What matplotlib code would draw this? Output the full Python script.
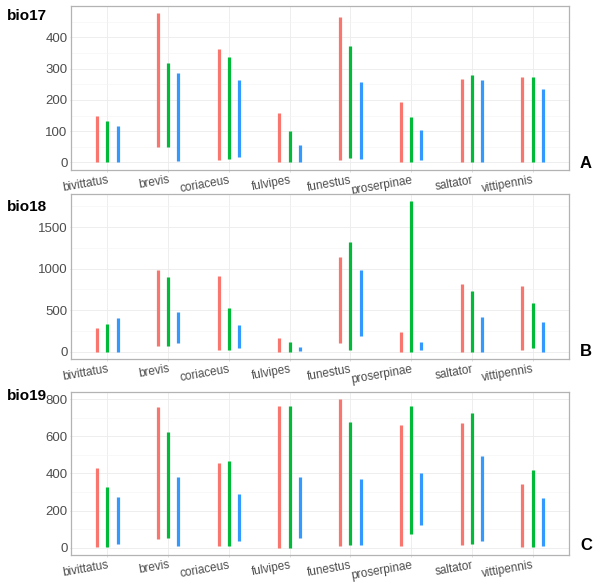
import matplotlib
matplotlib.use("Agg")
import matplotlib.pyplot as plt
import numpy as np
from matplotlib.ticker import MultipleLocator

plt.rcParams['font.family'] = ['Liberation Sans', 'DejaVu Sans']

species = ["bivittatus", "brevis", "coriaceus", "fulvipes", "funestus",
           "proserpinae", "saltator", "vittipennis"]
series_colors = ["#F8766D", "#00BA38", "#3399FF"]

# bio17: (low, high) per series (red, green, blue)
bio17_red_low = [0, 48, 8, 0, 8, 0, 0, 0]
bio17_red_high = [150, 477, 363, 158, 464, 192, 267, 272]
bio17_green_low = [0, 48, 11, 0, 14, 0, 0, 0]
bio17_green_high = [133, 318, 337, 100, 371, 146, 281, 274]
bio17_blue_low = [0, 6, 18, 0, 11, 8, 0, 2]
bio17_blue_high = [116, 287, 264, 57, 256, 104, 262, 235]

bio18_red_low = [0, 64, 16, 0, 100, 0, 0, 16]
bio18_red_high = [289, 990, 914, 160, 1135, 233, 810, 794]
bio18_green_low = [0, 72, 24, 0, 16, 0, 0, 48]
bio18_green_high = [333, 906, 529, 112, 1319, 1821, 730, 585]
bio18_blue_low = [0, 104, 40, 4, 184, 16, 0, 0]
bio18_blue_high = [409, 477, 325, 60, 986, 120, 413, 357]

bio19_red_low = [5, 47, 9, 0, 11, 11, 16, 2]
bio19_red_high = [427, 757, 456, 762, 804, 664, 673, 343]
bio19_green_low = [4, 50, 11, 0, 16, 72, 22, 2]
bio19_green_high = [328, 622, 468, 762, 678, 762, 725, 418]
bio19_blue_low = [20, 9, 38, 54, 14, 120, 36, 11]
bio19_blue_high = [273, 380, 292, 380, 370, 404, 492, 267]

panels = [
    ("bio17", "A", [(bio17_red_low, bio17_red_high), (bio17_green_low, bio17_green_high),
                    (bio17_blue_low, bio17_blue_high)], (-24, 500), [0, 100, 200, 300, 400], 50),
    ("bio18", "B", [(bio18_red_low, bio18_red_high), (bio18_green_low, bio18_green_high),
                    (bio18_blue_low, bio18_blue_high)], (-88, 1900), [0, 500, 1000, 1500], 250),
    ("bio19", "C", [(bio19_red_low, bio19_red_high), (bio19_green_low, bio19_green_high),
                    (bio19_blue_low, bio19_blue_high)], (-40, 840), [0, 200, 400, 600, 800], 100),
]

W, H = 600, 585
fig = plt.figure(figsize=(W / 100, H / 100), dpi=100)

# axes boxes in pixels: (left, top, right, bottom)
boxes = [(71, 6, 569, 170), (71, 194, 569, 359), (71, 392, 569, 555)]
title_y = [16, 207, 396]
letter_y = [163, 351, 546]

offsets = [-0.167, 0.0, 0.167]
x = np.arange(1, len(species) + 1)

for (name, letter, series, ylim, yticks, minor), (l, t, r, b), ty, ly in zip(panels, boxes, title_y, letter_y):
    ax = fig.add_axes([l / W, 1 - b / H, (r - l) / W, (b - t) / H])
    ax.set_facecolor("white")
    for (lo, hi), col, off in zip(series, series_colors, offsets):
        ax.vlines(x + off, lo, hi, colors=col, linewidth=2.3, zorder=3)
    ax.set_xlim(0.4, 8.6)
    ax.set_ylim(*ylim)
    ax.set_yticks(yticks)
    ax.yaxis.set_minor_locator(MultipleLocator(minor))
    ax.set_xticks(x)
    ax.set_xticklabels(species, rotation=10, ha="right", rotation_mode="anchor",
                       fontsize=8.5, color="#4D4D4D")
    ax.tick_params(axis="y", labelsize=9.5, labelcolor="#4D4D4D", color="#D0D0D0",
                   length=1.0, width=0.5, pad=1.5)
    ax.tick_params(axis="y", which="minor", length=0)
    ax.tick_params(axis="x", color="#D0D0D0", length=1.5, width=0.5, pad=1.5)
    ax.grid(True, which="major", color="#EBEBEB", linewidth=0.6, zorder=0)
    ax.grid(True, which="minor", axis="y", color="#F4F4F4", linewidth=0.4, zorder=0)
    ax.set_axisbelow(True)
    for s in ax.spines.values():
        s.set_color("#B3B3B3")
        s.set_linewidth(0.9)
    fig.text(7 / W, 1 - ty / H, name, fontsize=11, fontweight="bold", ha="left", va="center")
    fig.text(586 / W, 1 - ly / H, letter, fontsize=12, fontweight="bold", ha="center", va="center")

fig.savefig("out.png", dpi=100, facecolor="white")
